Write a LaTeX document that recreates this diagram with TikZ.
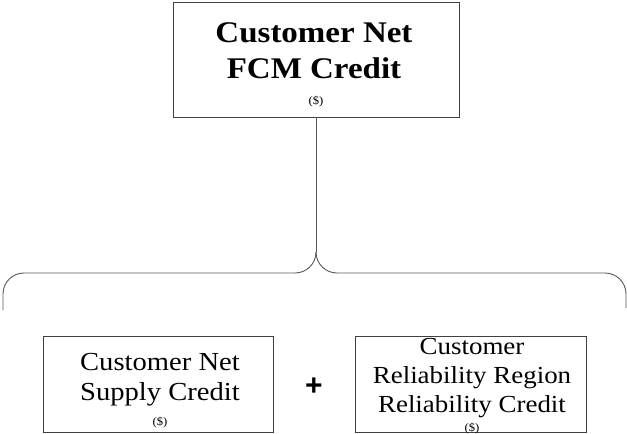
\documentclass[tikz,border=0pt]{standalone}
\usepackage{fontspec}
\setmainfont[FakeStretch=1.1]{Liberation Serif}
\newfontfamily\plusfont{Liberation Sans}
\begin{document}
\begin{tikzpicture}[x=1pt,y=-1pt,
  box/.style={draw=black!75, line width=0.9pt, rectangle, inner sep=0pt},
  conn/.style={draw=black!65, line width=0.9pt},
  txt/.style={inner sep=0pt, align=center, anchor=base},
  unit/.style={inner sep=0pt, anchor=base, font=\fontsize{11.5}{13}\selectfont}]
\useasboundingbox (0,0) rectangle (627,434);
% boxes
\node[box, minimum width=286pt, minimum height=115pt] (top) at (316,59.5) {};
\node[box, minimum width=230pt, minimum height=96pt] (left) at (158,384) {};
\node[box, minimum width=231pt, minimum height=96pt] (right) at (470.5,384) {};
% texts
\node[txt, font=\fontsize{30}{36}\selectfont\bfseries] (toptxt) at (314,78) {Customer Net\\FCM Credit};
\node[unit] (topunit) at (316,104) {(\$)};
\node[txt, font=\fontsize{26}{30}\selectfont] (lefttxt) at (160,400) {Customer Net\\Supply Credit};
\node[unit] (leftunit) at (160,425) {(\$)};
\node[txt, font=\fontsize{24.5}{29}\selectfont] (righttxt) at (472,412) {Customer\\Reliability Region\\Reliability Credit};
\node[unit] (rightunit) at (472,431) {(\$)};
\node[inner sep=0pt, font=\fontsize{30}{30}\selectfont\plusfont\bfseries] (plus) at (314,387) {+};
% brace
\coordinate (cusp) at (316,252);
\coordinate (lend) at (3,310);
\coordinate (rend) at (626,308);
\draw[conn] (top.south) -- (cusp);
\draw[conn] (cusp) .. controls (316,263.6) and (306.6,273) .. (295,273)
  -- (24,273) .. controls (12.4,273) and (3,282.4) .. (3,294) -- (lend);
\draw[conn] (cusp) .. controls (316,263.6) and (325.4,273) .. (337,273)
  -- (605,273) .. controls (616.6,273) and (626,282.4) .. (626,294) -- (rend);
\end{tikzpicture}
\end{document}
